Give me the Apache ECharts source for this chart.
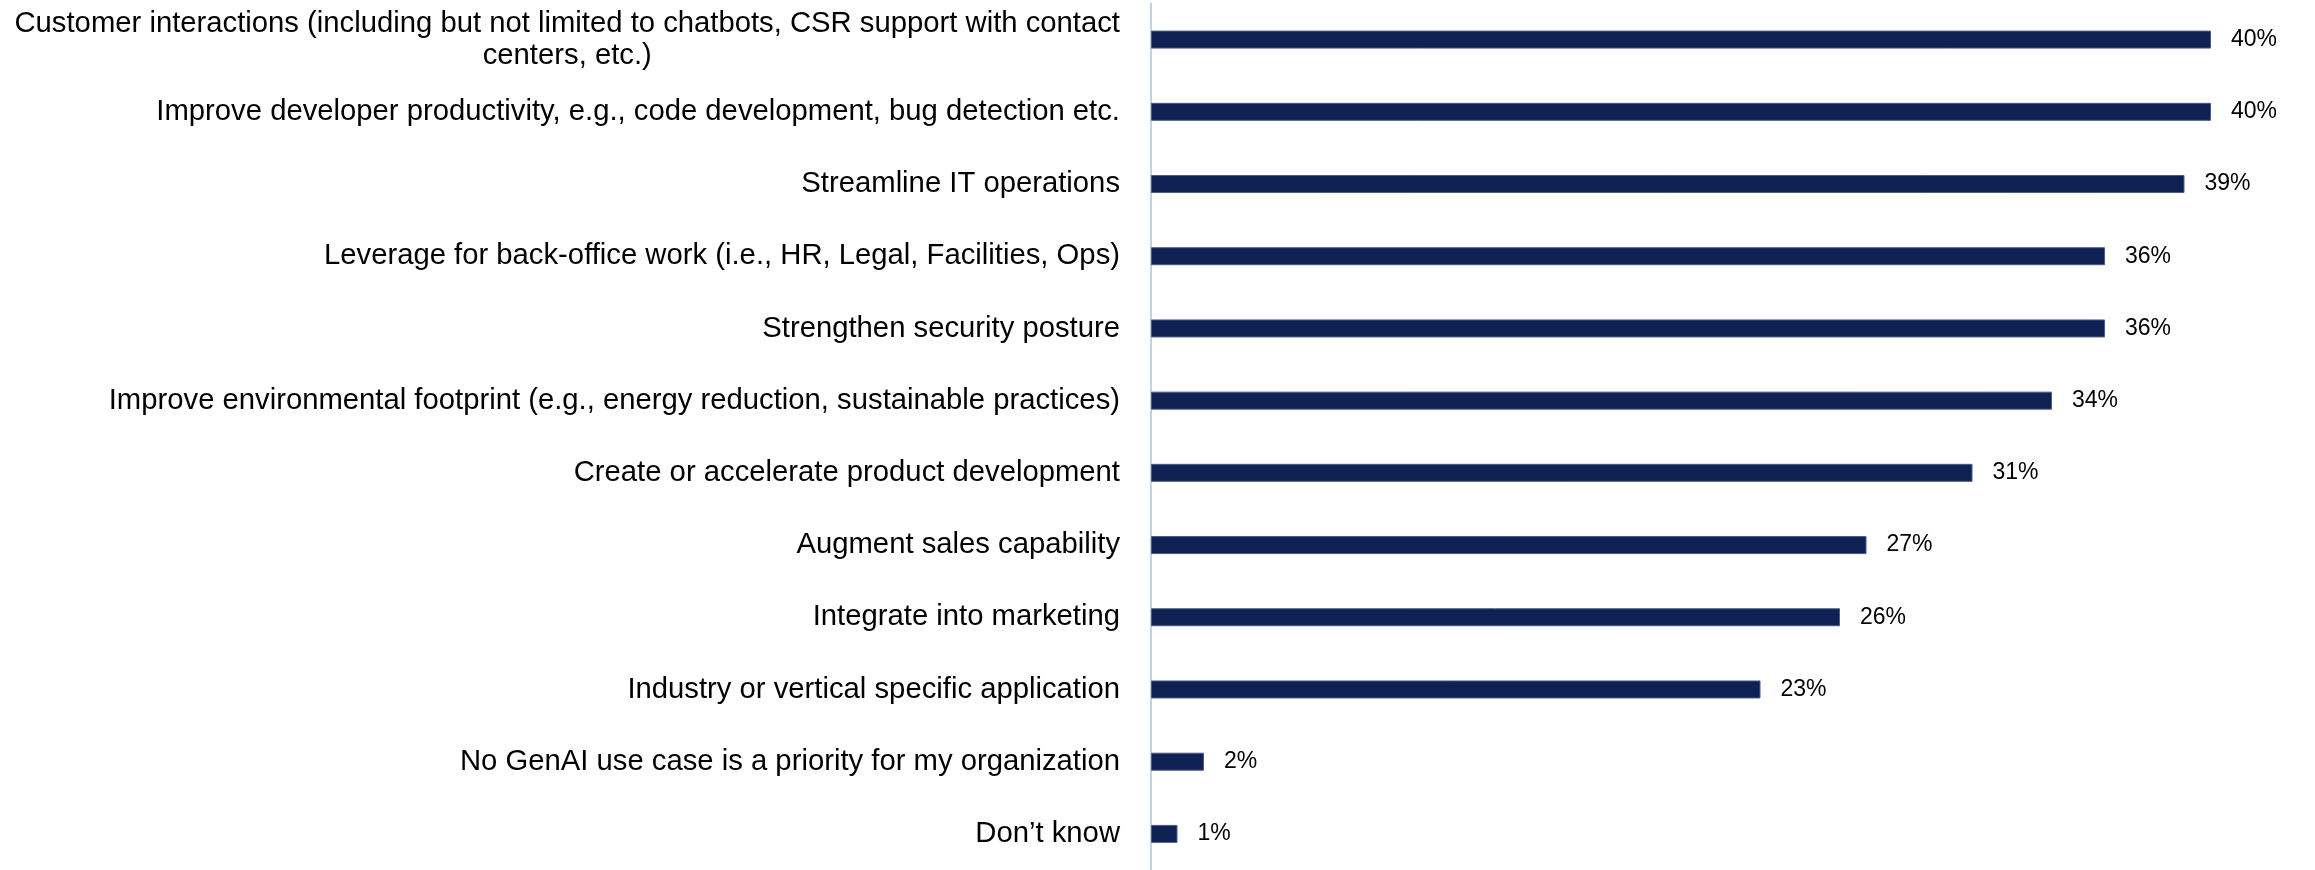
<!DOCTYPE html>
<html>
<head>
<meta charset="utf-8">
<title>GenAI use case priorities</title>
<script src="https://cdn.jsdelivr.net/npm/echarts@6/dist/echarts.min.js"></script>
<style>
  html, body { margin: 0; padding: 0; background: #ffffff; }
  #chart { width: 2315px; height: 870px; }
</style>
</head>
<body>
<div id="chart"></div>
<script>
// Use cases, listed top to bottom
const categories = [
  'Customer interactions (including but not limited to chatbots, CSR support with contact\ncenters, etc.)',
  'Improve developer productivity, e.g., code development, bug detection etc.',
  'Streamline IT operations',
  'Leverage for back-office work (i.e., HR, Legal, Facilities, Ops)',
  'Strengthen security posture',
  'Improve environmental footprint (e.g., energy reduction, sustainable practices)',
  'Create or accelerate product development',
  'Augment sales capability',
  'Integrate into marketing',
  'Industry or vertical specific application',
  'No GenAI use case is a priority for my organization',
  'Don\u2019t know'
];

// Share of respondents (%)
const shares = [40, 40, 39, 36, 36, 34, 31, 27, 26, 23, 2, 1];

const FONT = '"Liberation Sans", Arial, Helvetica, sans-serif';
const CAT_SIZE = 29.25;
const CAT_LINE = 32;

const chart = echarts.init(document.getElementById('chart'), null, { renderer: 'canvas' });

chart.setOption({
  backgroundColor: '#ffffff',
  animation: false,
  grid: {
    left: 1151,
    top: 3.5,
    height: 869,
    right: 104,
    containLabel: false
  },
  xAxis: {
    type: 'value',
    min: 0,
    max: 40,
    show: false
  },
  yAxis: {
    type: 'category',
    data: categories,
    inverse: true,
    offset: 3,
    axisLine: { show: true, lineStyle: { color: '#c3d1e6', width: 2 } },
    axisTick: { show: false },
    splitLine: { show: false },
    axisLabel: {
      margin: 28,
      fontFamily: FONT,
      fontSize: CAT_SIZE,
      color: '#000000',
      lineHeight: CAT_LINE,
      // wrapped labels keep their second line centred under the first
      formatter: function (value) {
        const lines = value.split('\n');
        if (lines.length === 1) return '{a|' + value + '}';
        return '{a|' + lines[0] + '}\n{b|' + lines[1] + '}';
      },
      rich: {
        a: { fontFamily: FONT, fontSize: CAT_SIZE, color: '#000000', lineHeight: CAT_LINE },
        b: { fontFamily: FONT, fontSize: CAT_SIZE, color: '#000000', lineHeight: CAT_LINE,
             align: 'center' }
      }
    }
  },
  series: [{
    type: 'bar',
    data: shares,
    barWidth: 18,
    itemStyle: {
      color: '#0f2153',
      borderColor: '#4a5c86',
      borderWidth: 1
    },
    label: {
      show: true,
      position: 'right',
      distance: 20,
      fontFamily: FONT,
      fontSize: 23,
      color: '#000000',
      formatter: function (p) { return p.value + '%'; }
    }
  }]
});
</script>
</body>
</html>
